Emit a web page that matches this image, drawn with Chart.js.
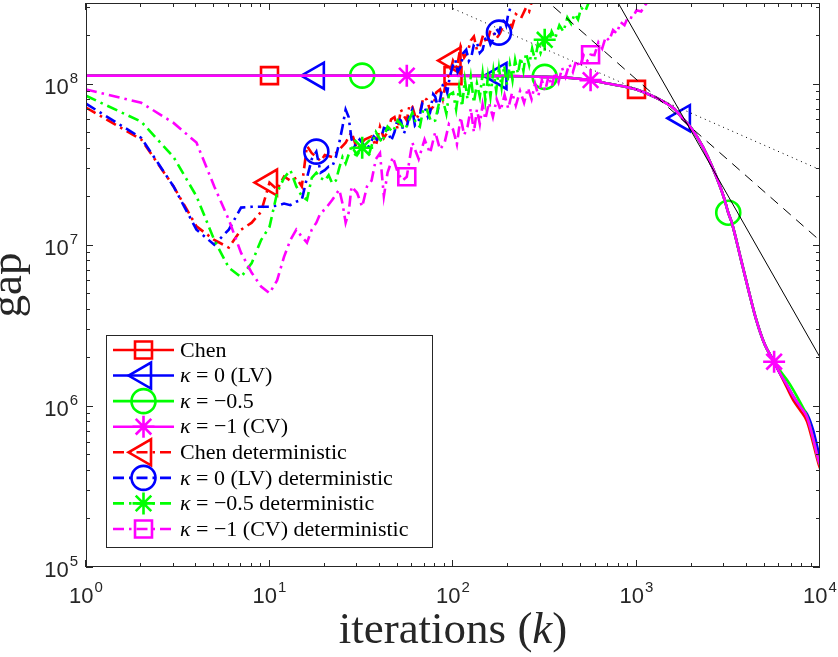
<!DOCTYPE html>
<html><head><meta charset="utf-8">
<script src="https://cdn.jsdelivr.net/npm/chart.js@4"></script>
<style>html,body{margin:0;padding:0;background:#fff;}canvas{display:block;}</style>
</head><body>
<canvas id="c" width="838" height="657"></canvas>
<script>
// ---------------- data ----------------
const seriesLabels = ['Chen', 'κ = 0 (LV)', 'κ = −0.5', 'κ = −1 (CV)',
  'Chen deterministic', 'κ = 0 (LV) deterministic', 'κ = −0.5 deterministic', 'κ = −1 (CV) deterministic'];

const xTickExps = [0, 1, 2, 3, 4];
const yTickExps = [5, 6, 7, 8];

// stochastic runs (solid lines)
const kStoch = [1,10,18,32,56,100,178,250,316,400,562,700,1000,1300,1600,1778,2000,2300,2600,3000,3162,3300,3700,4100,4500,5000,5623,6000,6600,7200,7800,8500,9200,9800,10000];
const chenVals = [1.12e8,1.12e8,1.12e8,1.12e8,1.12e8,1.12e8,1.115e8,1.11e8,1.10e8,1.09e8,1.05e8,1.0e8,9.2e7,8.1e7,7.0e7,6.1e7,5.25e7,4.05e7,3.0e7,1.95e7,1.58e7,1.38e7,8.2e6,5.1e6,3.4e6,2.4e6,1.88e6,1.62e6,1.3e6,1.07e6,9.4e5,8.0e5,5.8e5,4.4e5,4.1e5];
const lvVals   = [1.12e8,1.12e8,1.12e8,1.12e8,1.12e8,1.12e8,1.115e8,1.11e8,1.10e8,1.09e8,1.05e8,1.0e8,9.2e7,8.1e7,7.0e7,6.1e7,5.25e7,4.05e7,3.0e7,1.95e7,1.58e7,1.38e7,8.2e6,5.1e6,3.4e6,2.4e6,1.88e6,1.62e6,1.35e6,1.13e6,9.9e5,8.9e5,7.0e5,5.2e5,4.8e5];
const k05Vals  = [1.12e8,1.12e8,1.12e8,1.12e8,1.12e8,1.12e8,1.115e8,1.11e8,1.10e8,1.09e8,1.05e8,1.0e8,9.2e7,8.1e7,7.0e7,6.1e7,5.25e7,4.05e7,3.0e7,1.95e7,1.58e7,1.38e7,8.2e6,5.1e6,3.4e6,2.4e6,1.88e6,1.68e6,1.45e6,1.24e6,1.05e6,8.6e5,6.2e5,4.6e5,4.3e5];
const cvVals   = [1.12e8,1.12e8,1.12e8,1.12e8,1.12e8,1.12e8,1.115e8,1.11e8,1.10e8,1.09e8,1.05e8,1.0e8,9.2e7,8.1e7,7.0e7,6.1e7,5.25e7,4.05e7,3.0e7,1.95e7,1.58e7,1.38e7,8.2e6,5.1e6,3.4e6,2.4e6,1.88e6,1.62e6,1.35e6,1.13e6,9.9e5,8.5e5,6.2e5,4.6e5,4.3e5];

// deterministic runs (dash-dot lines): [iteration, gap]
const chenDet = [[1,7.1e7],[2,4.5e7],[3,2.3e7],[4,1.3e7],[5,1.07e7],[6,9.6e6],[7,1.24e7],[8,1.37e7],[9,1.6e7],[10,2.43e7],[11,2.2e7],[12,2.65e7],[13,2.5e7],[14,2.6e7],[15,2.3e7],[16,4.1e7],[17,3.7e7],[18,3.5e7],[19,3.3e7],[20,3.6e7],[22,3.5e7],[24,3.9e7],[26,4.3e7],[28,5.0e7],[30,3.9e7],[33,4.5e7],[36,4.7e7],[38,4.1e7],[40,5.4e7],[42,4.6e7],[44,5.0e7],[46,6.0e7],[48,6.2e7],[50,5.2e7],[52,6.9e7],[54,6.3e7],[56,5.9e7],[58,7.4e7],[60,7.2e7],[63,6.0e7],[66,6.6e7],[69,8.2e7],[72,7.95e7],[75,6.8e7],[78,7.2e7],[81,8.8e7],[85,9.2e7],[88,8.0e7],[92,1.06e8],[96,1.15e8],[100,1.39e8],[105,1.25e8],[110,1.7e8],[115,1.45e8],[120,1.56e8],[125,1.85e8],[130,1.96e8],[135,1.62e8],[140,1.7e8],[146,2.0e8],[153,1.77e8],[160,2.15e8],[165,2.1e8],[172,1.9e8],[180,2.04e8],[190,2.35e8],[200,2.43e8],[210,2.25e8],[220,2.7e8],[235,2.55e8],[250,2.96e8],[260,2.8e8],[270,3.3e8],[300,3.6e8]];
const lvDet = [[1,7.5e7],[2,4.6e7],[3,2.3e7],[4,1.24e7],[5,1.0e7],[6,1.24e7],[7,1.7e7],[8,1.72e7],[9,1.72e7],[10,1.72e7],[11,1.75e7],[12,1.8e7],[13,1.76e7],[14,1.85e7],[15,1.9e7],[16,2.6e7],[17,3.4e7],[18,3.78e7],[19,2.8e7],[20,2.9e7],[21,3.06e7],[22,3.06e7],[23,3.5e7],[24,4.3e7],[25,5.4e7],[26,6.9e7],[27,6.2e7],[28,4.5e7],[29,4.1e7],[31,4.5e7],[34,3.9e7],[37,4.7e7],[40,4.3e7],[42,5.3e7],[44,5.2e7],[46,4.4e7],[48,5.0e7],[50,6.1e7],[52,5.9e7],[54,4.9e7],[56,5.4e7],[58,6.4e7],[60,6.9e7],[62,5.5e7],[65,5.9e7],[68,7.5e7],[70,7.2e7],[73,6.2e7],[75,6.6e7],[78,8.6e7],[80,8.3e7],[83,7.0e7],[85,7.95e7],[88,9.8e7],[90,1.0e8],[93,8.8e7],[96,1.1e8],[100,1.3e8],[103,1.4e8],[106,1.18e8],[110,1.27e8],[114,1.55e8],[118,1.62e8],[122,1.38e8],[126,1.47e8],[130,1.75e8],[135,1.8e8],[140,1.55e8],[145,1.62e8],[150,1.9e8],[155,1.96e8],[160,1.75e8],[165,1.87e8],[172,2.2e8],[178,2.07e8],[184,2.35e8],[190,2.5e8],[195,2.3e8],[200,2.7e8],[210,3.16e8],[230,3.7e8]];
const k05Det = [[1,8.4e7],[2,5.8e7],[3,3.5e7],[4,2.0e7],[5,1.07e7],[6,7.2e6],[7,6.3e6],[8,7.7e6],[9,1.07e7],[10,1.29e7],[11,2.1e7],[12,2.6e7],[13,2.9e7],[14,2.3e7],[15,2.0e7],[16,1.9e7],[17,2.6e7],[18,2.8e7],[19,2.6e7],[20,2.5e7],[21,2.7e7],[22,2.4e7],[23,2.5e7],[24,3.0e7],[25,3.5e7],[26,3.2e7],[28,4.1e7],[30,3.6e7],[32,4.0e7],[35,3.7e7],[38,5.0e7],[41,4.3e7],[44,5.4e7],[47,5.0e7],[50,5.9e7],[55,5.2e7],[60,6.6e7],[63,5.6e7],[66,5.4e7],[69,7.0e7],[72,6.9e7],[76,5.8e7],[80,5.9e7],[84,7.6e7],[88,7.95e7],[92,6.5e7],[95,8.5e7],[100,8.8e7],[104,6.9e7],[108,9.5e7],[112,7.2e7],[116,1.05e8],[120,8.0e7],[125,1.1e8],[130,7.6e7],[135,1.0e8],[140,8.3e7],[145,1.15e8],[150,7.9e7],[155,1.1e8],[160,8.3e7],[166,1.2e8],[172,9.0e7],[178,1.25e8],[184,9.5e7],[190,1.3e8],[197,9.8e7],[204,1.32e8],[211,1.05e8],[218,1.4e8],[226,1.15e8],[234,1.45e8],[242,1.2e8],[250,1.55e8],[260,1.3e8],[270,1.65e8],[280,1.4e8],[290,1.75e8],[300,1.55e8],[316,1.87e8],[330,1.7e8],[345,2.1e8],[360,1.9e8],[380,2.3e8],[400,2.1e8],[420,2.57e8],[440,2.35e8],[460,2.7e8],[480,2.5e8],[500,2.96e8],[525,2.8e8],[550,3.2e8],[600,3.6e8]];
const cvDet = [[1,9.2e7],[2,7.6e7],[3,5.7e7],[4,4.3e7],[5,2.3e7],[6,1.43e7],[7,8.9e6],[8,6.7e6],[9,5.5e6],[10,5.0e6],[11,6.0e6],[12,8.4e6],[13,1.07e7],[14,1.24e7],[15,1.12e7],[16,1.03e7],[17,1.24e7],[18,1.37e7],[19,1.58e7],[20,1.65e7],[22,1.9e7],[24,2.2e7],[25,1.8e7],[26,1.37e7],[27,1.58e7],[28,2.3e7],[30,2.1e7],[32,1.72e7],[34,2.3e7],[36,2.5e7],[38,3.4e7],[40,3.7e7],[42,2.0e7],[44,2.8e7],[47,3.5e7],[50,2.8e7],[53,2.5e7],[56,2.64e7],[60,4.3e7],[65,3.4e7],[70,4.5e7],[75,3.7e7],[80,5.0e7],[85,3.9e7],[90,4.3e7],[95,5.6e7],[100,5.2e7],[105,4.2e7],[110,6.2e7],[115,4.8e7],[120,5.4e7],[125,7.0e7],[130,5.0e7],[135,6.9e7],[140,5.6e7],[145,7.4e7],[150,6.0e7],[157,7.6e7],[165,6.2e7],[173,8.0e7],[182,6.8e7],[191,8.5e7],[200,7.0e7],[210,8.8e7],[220,7.3e7],[232,9.0e7],[244,7.6e7],[256,9.4e7],[268,8.0e7],[280,1.0e8],[292,8.4e7],[305,1.05e8],[318,9.0e7],[332,1.12e8],[346,9.6e7],[360,1.18e8],[376,1.02e8],[393,1.25e8],[410,1.1e8],[430,1.32e8],[450,1.18e8],[470,1.4e8],[490,1.26e8],[515,1.5e8],[540,1.38e8],[562,1.51e8],[590,1.5e8],[620,1.8e8],[650,1.65e8],[680,1.95e8],[710,1.85e8],[745,2.15e8],[780,2.05e8],[820,2.4e8],[860,2.3e8],[900,2.6e8],[950,2.55e8],[1000,2.85e8],[1060,2.8e8],[1120,3.1e8],[1200,3.3e8],[1300,3.6e8]];

// marker positions (iteration indices)
const chenMarks = [10, 100, 1000];
const lvMarks = [18, 178, 1778];
const k05Marks = [32, 316, 3162];
const cvMarks = [56, 562, 5623];
const chenDetMarks = [10, 100];
const lvDetMarks = [18, 178];
const k05DetMarks = [32, 316];
const cvDetMarks = [56, 562];

// reference slopes (k^-1/2 dotted, k^-1 dashed, k^-2 solid)
const refHalfK = [100, 10000], refHalfV = [2.92e8, 2.92e7];
const refOneK = [300, 10000], refOneV = [3.53e8, 1.06e7];
const refTwoK = [700, 10000], refTwoV = [4.08e8, 2.0e6];

const Y_MAX = 316227766;

// ---------------- styling ----------------
const RED = '#ff0000', BLUE = '#0000ff', GREEN = '#00ff00', MAG = '#ff00ff';
const AXIS = '#262626';
const DASHDOT = [11, 5, 2.5, 5];

function pts(ks, vs) { return ks.map((k, i) => ({ x: k, y: vs[i] })); }
function pairPts(p) { return p.map(([k, v]) => ({ x: k, y: v })); }

const markerDefs = [
  { style: 'rect', r: 12, rot: 0 },
  { style: 'triangle', r: 15, rot: -90 },
  { style: 'circle', r: 12, rot: 0 },
  { style: 'star', r: 11, rot: 0 },
  { style: 'triangle', r: 15, rot: -90 },
  { style: 'circle', r: 12, rot: 0 },
  { style: 'star', r: 11, rot: 0 },
  { style: 'rect', r: 12, rot: 0 }
];
const colors = [RED, BLUE, GREEN, MAG, RED, BLUE, GREEN, MAG];
const seriesData = [
  pts(kStoch, chenVals), pts(kStoch, lvVals), pts(kStoch, k05Vals), pts(kStoch, cvVals),
  pairPts(chenDet), pairPts(lvDet), pairPts(k05Det), pairPts(cvDet)
];
const seriesMarks = [chenMarks, lvMarks, k05Marks, cvMarks, chenDetMarks, lvDetMarks, k05DetMarks, cvDetMarks];

const datasets = [];
seriesData.forEach((d, i) => {
  const det = i >= 4;
  const m = markerDefs[i];
  const marks = seriesMarks[i];
  datasets.push({
    label: seriesLabels[i],
    data: d,
    borderColor: colors[i],
    backgroundColor: 'rgba(0,0,0,0)',
    borderWidth: 2.6,
    borderDash: det ? DASHDOT : [],
    cubicInterpolationMode: det ? 'default' : 'monotone',
    tension: 0,
    pointStyle: m.style,
    pointRotation: m.rot,
    pointRadius: (c) => (c.raw && marks.includes(c.raw.x)) ? m.r : 0,
    pointHoverRadius: 0,
    pointBorderColor: colors[i],
    pointBackgroundColor: 'rgba(0,0,0,0)',
    pointBorderWidth: 2.6,
    fill: false
  });
});
[[refHalfK, refHalfV, [1, 4]], [refOneK, refOneV, [10, 7]], [refTwoK, refTwoV, []]].forEach(([k, v, dash]) => {
  datasets.push({
    data: pts(k, v), borderColor: '#000', borderWidth: 1, borderDash: dash,
    pointRadius: 0, pointHoverRadius: 0, fill: false, tension: 0
  });
});
const N = datasets.length;
datasets.forEach((d, i) => { d.order = N - i; });

// ---------------- helpers ----------------
function drawMarker(ctx, style, r, rot, x, y, color, lw) {
  ctx.save();
  ctx.strokeStyle = color; ctx.fillStyle = 'rgba(0,0,0,0)'; ctx.lineWidth = lw;
  ctx.setLineDash([]);
  if (Chart.helpers && Chart.helpers.drawPoint) {
    Chart.helpers.drawPoint(ctx, { pointStyle: style, radius: r, rotation: rot, borderWidth: lw }, x, y);
  }
  ctx.restore();
}
function richWidth(ctx, parts, size, family) {
  let w = 0;
  parts.forEach(p => { ctx.font = (p.i ? 'italic ' : '') + size + 'px ' + family; w += ctx.measureText(p.t).width; });
  return w;
}
function drawRich(ctx, parts, x, y, size, family) {
  parts.forEach(p => {
    ctx.font = (p.i ? 'italic ' : '') + size + 'px ' + family;
    ctx.fillText(p.t, x, y);
    x += ctx.measureText(p.t).width;
  });
}
function labelParts(s) {
  if (s.startsWith('κ')) return [{ t: 'κ', i: true }, { t: s.slice(1) }];
  return [{ t: s }];
}
function drawPow(ctx, exp, x, y, align) {
  const base = '10', e = String(exp);
  ctx.font = '22px "Liberation Sans", Arial, sans-serif';
  const wb = ctx.measureText(base).width;
  ctx.font = '15px "Liberation Sans", Arial, sans-serif';
  const we = ctx.measureText(e).width;
  const tot = wb + we + 1;
  const x0 = align === 'right' ? x - tot : x - tot / 2;
  ctx.font = '22px "Liberation Sans", Arial, sans-serif';
  ctx.fillText(base, x0, y);
  ctx.font = '15px "Liberation Sans", Arial, sans-serif';
  ctx.fillText(e, x0 + wb + 1, y - 11);
}

const decoPlugin = {
  id: 'deco',
  afterDatasetsDraw(chart) {
    const { ctx, chartArea: a, scales } = chart;
    const xs = scales.x, ys = scales.y;
    ctx.save();
    ctx.setLineDash([]);
    ctx.strokeStyle = AXIS; ctx.lineWidth = 1;
    ctx.strokeRect(Math.round(a.left) + 0.5, Math.round(a.top) + 0.5,
      Math.round(a.right - a.left) - 1, Math.round(a.bottom - a.top) - 1);
    ctx.beginPath();
    for (let n = 0; n <= 4; n++) {
      for (let m = 1; m <= 9; m++) {
        const v = m * Math.pow(10, n);
        if (v > 1e4) break;
        const px = Math.round(xs.getPixelForValue(v)) - 0.5;
        const len = m === 1 ? 7 : 4;
        ctx.moveTo(px, a.bottom); ctx.lineTo(px, a.bottom - len);
        ctx.moveTo(px, a.top); ctx.lineTo(px, a.top + len);
      }
    }
    for (let n = 5; n <= 8; n++) {
      for (let m = 1; m <= 9; m++) {
        const v = m * Math.pow(10, n);
        if (v > Y_MAX) break;
        const py = Math.round(ys.getPixelForValue(v)) + 0.5;
        const len = m === 1 ? 7 : 4;
        ctx.moveTo(a.left, py); ctx.lineTo(a.left + len, py);
        ctx.moveTo(a.right, py); ctx.lineTo(a.right - len, py);
      }
    }
    ctx.stroke();
    ctx.fillStyle = AXIS; ctx.textBaseline = 'alphabetic'; ctx.textAlign = 'left';
    xTickExps.forEach(e => drawPow(ctx, e, xs.getPixelForValue(Math.pow(10, e)), a.bottom + 36, 'center'));
    yTickExps.forEach(e => drawPow(ctx, e, a.left - 8, ys.getPixelForValue(Math.pow(10, e)) + 10, 'right'));
    const fam = '"Liberation Serif", "Times New Roman", serif';
    const tparts = [{ t: 'iterations (' }, { t: 'k', i: true }, { t: ')' }];
    const tw = richWidth(ctx, tparts, 45, fam);
    drawRich(ctx, tparts, (a.left + a.right) / 2 - tw / 2, 643, 45, fam);
    ctx.save();
    ctx.translate(21, (a.top + a.bottom) / 2);
    ctx.rotate(-Math.PI / 2);
    ctx.font = '45px ' + fam;
    ctx.textAlign = 'center';
    ctx.fillText('gap', 0, 0);
    ctx.restore();
    ctx.restore();
  },
  afterDraw(chart) {
    const { ctx } = chart;
    const fam = '"Liberation Serif", "Times New Roman", serif';
    const bx = 106.5, by = 335.5, bw = 326, bh = 212;
    ctx.save();
    ctx.fillStyle = '#fff';
    ctx.fillRect(bx, by, bw, bh);
    ctx.strokeStyle = AXIS; ctx.lineWidth = 1; ctx.setLineDash([]);
    ctx.strokeRect(bx, by, bw, bh);
    for (let i = 0; i < 8; i++) {
      const ds = chart.data.datasets[i];
      const yy = 350 + i * 25.57;
      ctx.strokeStyle = ds.borderColor; ctx.lineWidth = ds.borderWidth;
      ctx.setLineDash(ds.borderDash || []);
      ctx.beginPath(); ctx.moveTo(113, yy); ctx.lineTo(174, yy); ctx.stroke();
      const m = markerDefs[i];
      drawMarker(ctx, m.style, m.r, m.rot, 143.5, yy, ds.borderColor, 2.6);
      ctx.fillStyle = '#000'; ctx.textBaseline = 'middle'; ctx.textAlign = 'left';
      drawRich(ctx, labelParts(seriesLabels[i]), 180, yy + 1, 22, fam);
    }
    ctx.restore();
  }
};

new Chart(document.getElementById('c'), {
  type: 'line',
  data: { datasets },
  options: {
    responsive: false, animation: false, events: [],
    devicePixelRatio: 1,
    layout: { padding: { left: 86, right: 18, top: 3, bottom: 90 } },
    plugins: { legend: { display: false }, tooltip: { enabled: false }, title: { display: false } },
    scales: {
      x: { type: 'logarithmic', min: 1, max: 1e4, ticks: { display: false }, grid: { display: false }, border: { display: false }, afterFit: s => { s.height = 0; } },
      y: { type: 'logarithmic', min: 1e5, max: Y_MAX, ticks: { display: false }, grid: { display: false }, border: { display: false }, afterFit: s => { s.width = 0; } }
    }
  },
  plugins: [decoPlugin]
});
</script></body></html>
